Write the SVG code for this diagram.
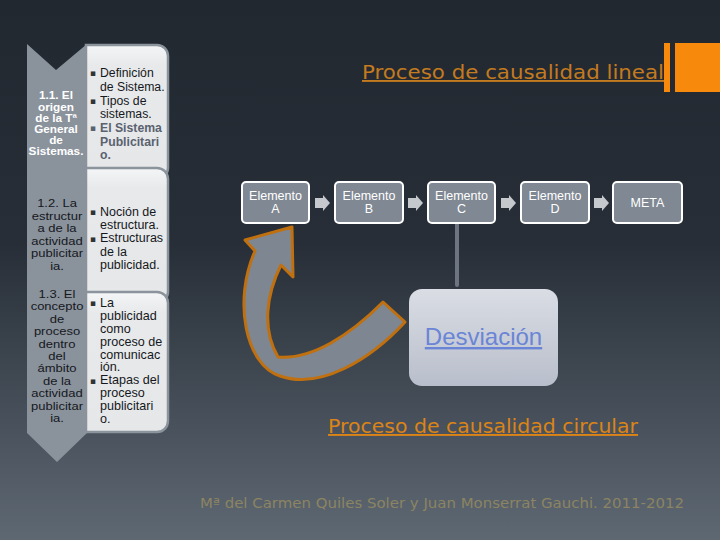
<svg xmlns="http://www.w3.org/2000/svg" width="720" height="540" viewBox="0 0 720 540">
<defs>
<linearGradient id="bg" x1="0" y1="0" x2="0" y2="1">
<stop offset="0" stop-color="#222830"/>
<stop offset="0.45" stop-color="#272e37"/>
<stop offset="1" stop-color="#5e6873"/>
</linearGradient>
<linearGradient id="dev" x1="0" y1="0" x2="0" y2="1">
<stop offset="0" stop-color="#dadde4"/>
<stop offset="1" stop-color="#b8becb"/>
</linearGradient>
<linearGradient id="pan" x1="0" y1="0" x2="0" y2="1">
<stop offset="0" stop-color="#f4f5f6"/>
<stop offset="0.15" stop-color="#e8e9eb"/>
<stop offset="1" stop-color="#e6e7e9"/>
</linearGradient>
</defs>
<style>
.panel{fill:url(#pan);stroke:#8b939c;stroke-width:2.5}
.strip{fill:#8a929c}
.st{font-family:"Liberation Sans",Arial,sans-serif;font-size:11.5px;text-anchor:middle;fill:#15181c}
.stb{font-family:"Liberation Sans",Arial,sans-serif;font-size:10.5px;font-weight:bold;text-anchor:middle;fill:#ffffff}
.pt{font-family:"Liberation Sans",Arial,sans-serif;font-size:12px;fill:#15181c}
.gray{font-weight:bold;fill:#5a6270}
.bul{font-family:"DejaVu Sans",sans-serif;font-size:9px;fill:#333}
.box{fill:#7f8893;stroke:#ffffff;stroke-width:2}
.bt{font-family:"Liberation Sans",Arial,sans-serif;font-size:12.5px;fill:#ffffff;text-anchor:middle}
.arr{fill:#c5c9cd}
.title{font-family:"DejaVu Sans",sans-serif;text-decoration:underline}
</style>
<rect width="720" height="540" fill="url(#bg)"/>

<g id="panels">
<path class="panel" d="M86,45 H157 A11,11 0 0 1 168,56 V168 A10,10 0 0 1 158,178 H86 Z"/>
<path class="panel" d="M86,168 H157 A11,11 0 0 1 168,179 V292 A10,10 0 0 1 158,302 H86 Z"/>
<path class="panel" d="M86,292 H157 A11,11 0 0 1 168,303 V421 A11,11 0 0 1 157,432 H86 Z"/>
</g>

<g id="strip">
<path class="strip" d="M27,44 L56,70 L87,44 L87,433 L57,462 L27,433 Z"/>
</g>

<g id="item1">
<g transform="translate(56,0) scale(1.12,1)">
<text class="stb" y="99.5"><tspan x="0">1.1. El</tspan><tspan x="0" dy="11.2">origen</tspan><tspan x="0" dy="11.2">de la Tª</tspan><tspan x="0" dy="11.2">General</tspan><tspan x="0" dy="11.2">de</tspan><tspan x="0" dy="11.2">Sistemas.</tspan></text>
</g>
<text class="bul" y="76"><tspan x="90">▪</tspan><tspan x="90" dy="28">▪</tspan><tspan x="90" dy="27" fill="#5a6270">▪</tspan></text>
<g transform="translate(100,0) scale(1.02,1)">
<text class="pt" y="77"><tspan x="0">Definición</tspan><tspan x="0" dy="14">de Sistema.</tspan><tspan x="0" dy="14">Tipos de</tspan><tspan x="0" dy="13">sistemas.</tspan><tspan class="gray" x="0" dy="14">El Sistema</tspan><tspan class="gray" x="0" dy="14">Publicitari</tspan><tspan class="gray" x="0" dy="13">o.</tspan></text>
</g>
</g>

<g id="item2">
<g transform="translate(57,0) scale(1.13,1)">
<text class="st" y="207"><tspan x="0">1.2. La</tspan><tspan x="0" dy="12.6">estructur</tspan><tspan x="0" dy="12.6">a de la</tspan><tspan x="0" dy="12.6">actividad</tspan><tspan x="0" dy="12.6">publicitar</tspan><tspan x="0" dy="12.6">ia.</tspan></text>
</g>
<text class="bul" y="215"><tspan x="90">▪</tspan><tspan x="90" dy="27">▪</tspan></text>
<g transform="translate(100,0) scale(1.04,1)">
<text class="pt" y="216"><tspan x="0">Noción de</tspan><tspan x="0" dy="13.2">estructura.</tspan><tspan x="0" dy="13.2">Estructuras</tspan><tspan x="0" dy="13.2">de la</tspan><tspan x="0" dy="13.2">publicidad.</tspan></text>
</g>
</g>

<g id="item3">
<g transform="translate(57,0) scale(1.13,1)">
<text class="st" y="298"><tspan x="0">1.3. El</tspan><tspan x="0" dy="12.4">concepto</tspan><tspan x="0" dy="12.4">de</tspan><tspan x="0" dy="12.4">proceso</tspan><tspan x="0" dy="12.4">dentro</tspan><tspan x="0" dy="12.4">del</tspan><tspan x="0" dy="12.4">ámbito</tspan><tspan x="0" dy="12.4">de la</tspan><tspan x="0" dy="12.4">actividad</tspan><tspan x="0" dy="12.4">publicitar</tspan><tspan x="0" dy="12.4">ia.</tspan></text>
</g>
<text class="bul" y="306"><tspan x="90">▪</tspan><tspan x="90" dy="78">▪</tspan></text>
<g transform="translate(100,0) scale(1.05,1)">
<text class="pt" y="307"><tspan x="0">La</tspan><tspan x="0" dy="12.9">publicidad</tspan><tspan x="0" dy="12.9">como</tspan><tspan x="0" dy="12.9">proceso de</tspan><tspan x="0" dy="12.9">comunicac</tspan><tspan x="0" dy="12.9">ión.</tspan><tspan x="0" dy="12.9">Etapas del</tspan><tspan x="0" dy="12.9">proceso</tspan><tspan x="0" dy="12.9">publicitari</tspan><tspan x="0" dy="12.9">o.</tspan></text>
</g>
</g>

<g id="title-lineal">
<text class="title" x="362" y="79" font-size="19" fill="#c47a1e" textLength="302" lengthAdjust="spacingAndGlyphs">Proceso de causalidad lineal</text>
<rect x="664" y="43" width="6" height="49" fill="#f78a0c"/>
<rect x="675" y="43" width="45" height="49" fill="#f78a0c"/>
</g>

<g id="connectors">
<path class="arr" d="M315,198 H323 V195 L330,203 L323,211 V208 H315 Z"/>
<path class="arr" d="M408,198 H416 V195 L423,203 L416,211 V208 H408 Z"/>
<path class="arr" d="M501,198 H509 V195 L516,203 L509,211 V208 H501 Z"/>
<path class="arr" d="M594,198 H602 V195 L609,203 L602,211 V208 H594 Z"/>
<line x1="457" y1="224" x2="457" y2="285" stroke="#6d7582" stroke-width="4" stroke-linecap="round"/>
<path d="M292,227 L293,277 L281,265 C266,295 262,330 278,357 C312,360 350,335 383,302 L405,322 C370,360 320,390 280,376 C245,365 233,300 255,251 L245,240 Z" fill="#7d8691" stroke="#c0700f" stroke-width="3" stroke-linejoin="round"/>
</g>

<g id="elemA">
<rect class="box" x="242" y="182" width="67" height="41" rx="4"/>
<text class="bt" y="200"><tspan x="275.5">Elemento</tspan><tspan x="275.5" dy="13">A</tspan></text>
</g>
<g id="elemB">
<rect class="box" x="335" y="182" width="68" height="41" rx="4"/>
<text class="bt" y="200"><tspan x="369">Elemento</tspan><tspan x="369" dy="13">B</tspan></text>
</g>
<g id="elemC">
<rect class="box" x="428" y="182" width="67" height="41" rx="4"/>
<text class="bt" y="200"><tspan x="461.5">Elemento</tspan><tspan x="461.5" dy="13">C</tspan></text>
</g>
<g id="elemD">
<rect class="box" x="521" y="182" width="68" height="41" rx="4"/>
<text class="bt" y="200"><tspan x="555">Elemento</tspan><tspan x="555" dy="13">D</tspan></text>
</g>
<g id="meta">
<rect class="box" x="613" y="182" width="69" height="41" rx="4"/>
<text class="bt" x="647.5" y="207" font-size="13">META</text>
</g>

<g id="desviacion">
<rect x="409" y="289" width="149" height="97" rx="13" fill="url(#dev)"/>
<text x="483.5" y="345" font-family="Liberation Sans, Arial, sans-serif" font-size="24" fill="#6a85d6" text-anchor="middle" text-decoration="underline">Desviación</text>
</g>

<g id="title-circular">
<text class="title" x="328" y="433" font-size="19" fill="#dc8416" textLength="310" lengthAdjust="spacingAndGlyphs">Proceso de causalidad circular</text>
</g>

<g id="footer">
<text x="200" y="508" font-family="DejaVu Sans, sans-serif" font-size="14" fill="#8c8462" textLength="484" lengthAdjust="spacingAndGlyphs">Mª del Carmen Quiles Soler y  Juan Monserrat Gauchi. 2011-2012</text>
</g>
</svg>
